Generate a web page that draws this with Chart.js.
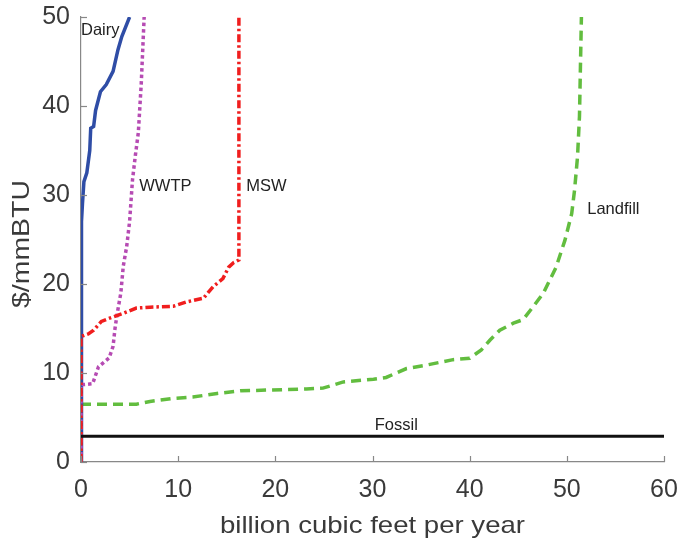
<!DOCTYPE html>
<html><head><meta charset="utf-8">
<script src="https://cdn.jsdelivr.net/npm/chart.js@4/dist/chart.umd.min.js"></script>
<style>html,body{margin:0;padding:0;background:#fff}#wrap{width:680px;height:539px}</style>
</head><body><div id="wrap"><canvas id="c" width="680" height="539"></canvas></div>
<script>
const dairyX = [0, 0, 0.1, 0.15, 0.3, 0.6, 0.9, 1.0, 1.3, 1.5, 2.0, 2.6, 3.3, 3.8, 4.2, 5.0];
const dairyY = [0, 26.3, 27, 29, 31.5, 32.5, 35, 37.5, 37.7, 39.5, 41.6, 42.4, 43.9, 46.3, 47.8, 50];
const wwtpX = [0, 0, 0.3, 1.2, 1.8, 2.9, 3.3, 3.5, 3.7, 4.1, 4.35, 4.7, 5.0, 5.3, 5.6, 5.9, 6.2, 6.5];
const wwtpY = [0, 8.7, 8.7, 8.8, 10.7, 11.7, 13, 15, 16.5, 19, 22, 24.2, 27, 31.7, 34.5, 37, 42.5, 50];
const mswX = [0, 0, 0.75, 1.3, 2.1, 2.8, 4.35, 5.7, 7.1, 9.5, 10.9, 12.6, 13.6, 14.6, 15.2, 15.7, 16.25, 16.25];
const mswY = [0, 14.1, 14.4, 14.8, 15.8, 16.1, 16.7, 17.3, 17.4, 17.5, 18.0, 18.4, 19.7, 20.6, 21.9, 22.4, 22.7, 50];
const landfillX = [0, 5.7, 7.1, 9.5, 11.5, 14, 16.4, 23.2, 24.9, 27, 30.1, 31.4, 33.5, 35.6, 38.3, 40.0, 41.2, 42.1, 43.1, 44.5, 45.5, 46.5, 47.6, 48.9, 49.8, 50.5, 50.8, 51.1, 51.3, 51.4, 51.5];
const landfillY = [6.5, 6.5, 6.8, 7.15, 7.3, 7.7, 8.0, 8.2, 8.3, 9.0, 9.3, 9.5, 10.5, 10.9, 11.5, 11.65, 12.6, 13.7, 14.8, 15.6, 16.0, 17.4, 19.0, 21.9, 24.9, 27.9, 30.6, 34.3, 38.8, 44.4, 50];
const fossilX = [0, 60];
const fossilY = [2.9, 2.9];
const xTicks = [0, 10, 20, 30, 40, 50, 60];
const yTicks = [0, 10, 20, 30, 40, 50];
const xTitle = 'billion cubic feet per year';
const yTitle = '$/mmBTU';
const labels = [
  {text: 'Dairy', x: 0, y: 48.5, align: 'left'},
  {text: 'WWTP', x: 6.0, y: 31, align: 'left'},
  {text: 'MSW', x: 17.0, y: 31, align: 'left'},
  {text: 'Landfill', x: 52.1, y: 28.4, align: 'left'},
  {text: 'Fossil', x: 32.45, y: 4.1, align: 'center'}
];

const pts = (xs, ys) => xs.map((x, i) => ({x: x, y: ys[i]}));
const FONT = "'Liberation Sans', Arial, sans-serif";

function stretchedText(ctx, text, cx, cy, target) {
  const w = ctx.measureText(text).width;
  ctx.save();
  ctx.translate(cx, cy);
  ctx.scale(target / w, 1);
  ctx.textAlign = 'center';
  ctx.fillText(text, 0, 0);
  ctx.restore();
}

const drawPlugin = {
  id: 'extras',
  afterDatasetsDraw(chart) {
    const ctx = chart.ctx, xs = chart.scales.x, ys = chart.scales.y, a = chart.chartArea;
    ctx.save();
    ctx.strokeStyle = '#888'; ctx.lineWidth = 1.2;
    xTicks.forEach(v => { const p = Math.round(xs.getPixelForValue(v)) + 0.5; ctx.beginPath(); ctx.moveTo(p, a.bottom); ctx.lineTo(p, a.bottom - 6); ctx.stroke(); });
    yTicks.forEach(v => { const p = Math.round(ys.getPixelForValue(v)) + 0.5; ctx.beginPath(); ctx.moveTo(a.left, p); ctx.lineTo(a.left + 6, p); ctx.stroke(); });
    ctx.fillStyle = '#222'; ctx.font = '16.5px ' + FONT; ctx.textBaseline = 'middle';
    labels.forEach(l => { ctx.textAlign = l.align; ctx.fillText(l.text, xs.getPixelForValue(l.x), ys.getPixelForValue(l.y)); });
    // axis titles
    ctx.fillStyle = '#3a3a3a'; ctx.font = '24px ' + FONT; ctx.textBaseline = 'alphabetic';
    stretchedText(ctx, xTitle, 372.5, 533, 305);
    ctx.translate(29, 244); ctx.rotate(-Math.PI / 2);
    stretchedText(ctx, yTitle, 0, 0, 128);
    ctx.restore();
  }
};

new Chart(document.getElementById('c'), {
  type: 'scatter',
  data: {
    datasets: [
      {label: 'Fossil', data: pts(fossilX, fossilY), showLine: true, borderColor: '#111', borderWidth: 3, pointRadius: 0},
      {label: 'MSW', data: pts(mswX, mswY), showLine: true, borderColor: '#F01E1E', borderWidth: 3.5, borderDash: [8, 3, 2.5, 3], pointRadius: 0},
      {label: 'WWTP', data: pts(wwtpX, wwtpY), showLine: true, borderColor: '#B64BB3', borderWidth: 3.5, borderDash: [3.5, 3], pointRadius: 0},
      {label: 'Dairy', data: pts(dairyX, dairyY), showLine: true, borderColor: '#2F4DA6', borderWidth: 3.5, pointRadius: 0},
      {label: 'Landfill', data: pts(landfillX, landfillY), showLine: true, borderColor: '#62BD3F', borderWidth: 3.5, borderDash: [10, 6], pointRadius: 0}
    ]
  },
  options: {
    responsive: false, animation: false,
    layout: {padding: {top: 17, right: 16, left: 0, bottom: 0}},
    plugins: {legend: {display: false}, tooltip: {enabled: false}},
    scales: {
      x: {
        type: 'linear', min: 0, max: 60,
        afterBuildTicks: s => { s.ticks = xTicks.map(v => ({value: v})); },
        afterFit: s => { s.height = 77; s.paddingLeft = 0; s.paddingRight = 0; },
        grid: {display: true, drawOnChartArea: false, drawTicks: false},
        border: {display: true, color: '#888', width: 1.2},
        ticks: {color: '#3a3a3a', font: {family: FONT, size: 25}, padding: 13, maxRotation: 0},
        title: {display: false}
      },
      y: {
        type: 'linear', min: 0, max: 50,
        afterBuildTicks: s => { s.ticks = yTicks.map(v => ({value: v})); },
        afterFit: s => { s.width = 81; s.paddingTop = 0; s.paddingBottom = 0; },
        grid: {display: true, drawOnChartArea: false, drawTicks: false},
        border: {display: true, color: '#888', width: 1.2},
        ticks: {color: '#3a3a3a', font: {family: FONT, size: 25}, padding: 11},
        title: {display: false}
      }
    }
  },
  plugins: [drawPlugin]
});
</script></body></html>
